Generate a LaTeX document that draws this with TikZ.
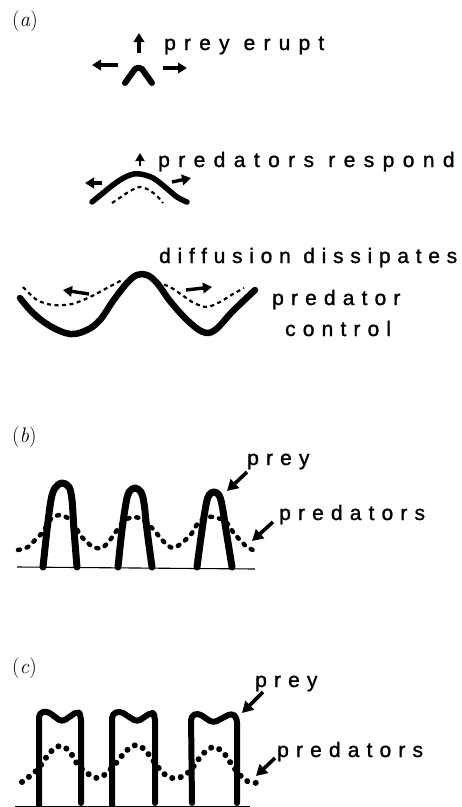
\documentclass[tikz,border=0pt]{standalone}
\usepackage{fontspec}
\newfontfamily\lab[LetterSpace=34,FakeBold=1.2]{Liberation Sans}
\usetikzlibrary{arrows.meta}

\begin{document}
\begin{tikzpicture}[x=1pt,y=-1pt,
  lbl/.style={anchor=base west, inner sep=0pt, font=\lab\fontsize{21}{25}\selectfont},
  tag/.style={anchor=base west, inner sep=0pt, font=\fontsize{21}{25}\selectfont},
  preyline/.style={line width=#1, line cap=round, line join=round},
  preyline/.default=6.5pt,
  predline/.style={line width=2.2pt, dash pattern=on 4pt off 3.5pt},
  predbdots/.style={line width=4.5pt, line cap=round, dash pattern=on 2pt off 7pt},
  predcdots/.style={line width=6pt, line cap=round, dash pattern=on 0.1pt off 8.5pt},
  smallarrow/.style={line width=3.4pt, -{Triangle[length=9pt,width=10.5pt]}},
  bigarrow/.style={line width=3.6pt, -{Triangle[length=11pt,width=12pt]}},
  ground/.style={line width=1.1pt}
]
\useasboundingbox (0,0) rectangle (462,807);

% ---------- panel (a) ----------
\node[tag] (tagA) at (12,26) {(\textit{a})};

% prey erupt
\node[lbl, font=\lab\fontsize{21}{25}\selectfont\addfontfeature{LetterSpace=39}] (erupt) at (164,50) {prey erupt};
\draw[preyline=6pt] (125,83) -- (135,69) to[bend left=45] (142,69) -- (152,83);
\coordinate (eruptUpA) at (139,53);  \coordinate (eruptUpB) at (139,33);
\coordinate (eruptLA) at (118,65);   \coordinate (eruptLB) at (92,65);
\coordinate (eruptRA) at (163,68);   \coordinate (eruptRB) at (187,68);
\draw[smallarrow] (eruptUpA) -- (eruptUpB);
\draw[smallarrow] (eruptLA) -- (eruptLB);
\draw[smallarrow] (eruptRA) -- (eruptRB);

% predators respond
\node[lbl, font=\lab\fontsize{21}{25}\selectfont\addfontfeature{LetterSpace=40}] (respond) at (158,167) {predators respond};
\coordinate (respUpA) at (140,166); \coordinate (respUpB) at (140,153);
\draw[line width=2.8pt, -{Triangle[length=8pt,width=9pt]}] (respUpA) -- (respUpB);
\draw[preyline=5.5pt] plot[smooth, tension=0.6] coordinates
  {(92,202) (103,193) (117,182) (130,175) (140,174) (153,178) (165,187) (177,197) (187,202)};
\draw[predline] plot[smooth] coordinates
  {(112,203) (121,197) (130,191) (140,187) (149,190) (157,196) (163,203)};
\coordinate (respLA) at (102,183); \coordinate (respLB) at (85,183);
\coordinate (respRA) at (172,182); \coordinate (respRB) at (191,178);
\draw[smallarrow] (respLA) -- (respLB);
\draw[smallarrow] (respRA) -- (respRB);

% diffusion dissipates / predator control
\node[lbl, font=\lab\fontsize{21}{25}\selectfont\addfontfeature{LetterSpace=32}] (diffuse) at (159,263) {diffusion dissipates};
\node[lbl] (control1) at (272,305) {predator};
\node[lbl] (control2) at (285,336) {control};
\draw[preyline=6.5pt] plot[smooth, tension=0.6] coordinates
  {(20,298) (33,313) (50,326) (70,334) (87,330) (100,320) (113,301) (127,283)
   (137,275) (147,275) (157,283) (170,301) (187,320) (203,332) (215,330)
   (233,311) (255,290)};
\draw[predline] plot[smooth] coordinates
  {(23,287) (37,300) (53,305) (72,304) (90,297) (107,288) (122,280)};
\draw[predline] plot[smooth] coordinates
  {(157,282) (170,287) (182,295) (194,303) (207,307) (220,302) (233,294) (244,288)};
\coordinate (diffLA) at (89,294); \coordinate (diffLB) at (63,290);
\coordinate (diffRA) at (186,290); \coordinate (diffRB) at (212,287);
\draw[smallarrow] (diffLA) -- (diffLB);
\draw[smallarrow] (diffRA) -- (diffRB);

% ---------- panel (b) ----------
\node[tag] (tagB) at (12,442) {(\textit{b})};
\draw[ground] (17,567) -- (255,569);
\draw[predbdots] plot[smooth] coordinates
  {(18,550) (28,547) (35,540) (42,533) (47,525) (52,518) (60,515) (68,518)
   (75,525) (80,535) (87,542) (93,547) (102,548) (110,540) (117,530)
   (125,520) (135,517) (143,520) (152,528) (158,535) (164,542) (173,548)
   (183,542) (192,533) (198,523) (207,517) (218,518) (227,523) (233,532)
   (240,540) (247,547) (253,550)};
\draw[preyline=7pt] plot[smooth, tension=0.55] coordinates
  {(43,567) (47,530) (51,500) (55,488) (62,483) (69,487) (72,500) (74,530) (77,567)};
\draw[preyline=7pt] plot[smooth, tension=0.55] coordinates
  {(118,567) (122,530) (126,503) (129,492) (135,488) (141,492) (144,503) (147,530) (152,567)};
\draw[preyline=7pt] plot[smooth, tension=0.55] coordinates
  {(197,567) (202,530) (206,505) (209,495) (214,492) (219,495) (222,505) (226,530) (232,567)};
\node[lbl] (preyB) at (247,465) {prey};
\node[lbl] (predB) at (279,520) {predators};
\coordinate (preyBtail) at (247,472); \coordinate (preyBtip) at (227,491);
\coordinate (predBtail) at (273,522); \coordinate (predBtip) at (252,541);
\draw[bigarrow] (preyBtail) -- (preyBtip);
\draw[bigarrow] (predBtail) -- (predBtip);

% ---------- panel (c) ----------
\node[tag] (tagC) at (12,673) {(\textit{c})};
\draw[ground] (15,806.5) -- (250,806.5);
\draw[predcdots] plot[smooth] coordinates
  {(22,782) (37,770) (48,755) (55,748) (62,746) (70,752) (78,765) (87,773)
   (97,778) (107,773) (117,762) (126,751) (136,745) (145,750) (155,763)
   (163,773) (172,778) (181,777) (190,771) (198,760) (206,751) (214,747)
   (223,752) (230,762) (238,773) (247,781) (257,783)};
\draw[preyline=6pt, rounded corners=4pt]
  (39,807) -- (39,713) -- (47,711) -- (62,722) -- (78,711) -- (81,716) -- (81,803);
\draw[preyline=6pt, rounded corners=4pt]
  (112,807) -- (112,714) -- (120,711) -- (137,722) -- (152,712) -- (155,716) -- (155,803);
\draw[preyline=6pt, rounded corners=4pt]
  (192,803) -- (191,716) -- (198,713) -- (213,723) -- (232,713) -- (237,718) -- (237,803);
\node[lbl] (preyC) at (255,687) {prey};
\node[lbl] (predC) at (277,757) {predators};
\coordinate (preyCtail) at (263,692); \coordinate (preyCtip) at (242,713);
\coordinate (predCtail) at (275,758); \coordinate (predCtip) at (256,776);
\draw[bigarrow] (preyCtail) -- (preyCtip);
\draw[bigarrow] (predCtail) -- (predCtip);
\end{tikzpicture}
\end{document}
